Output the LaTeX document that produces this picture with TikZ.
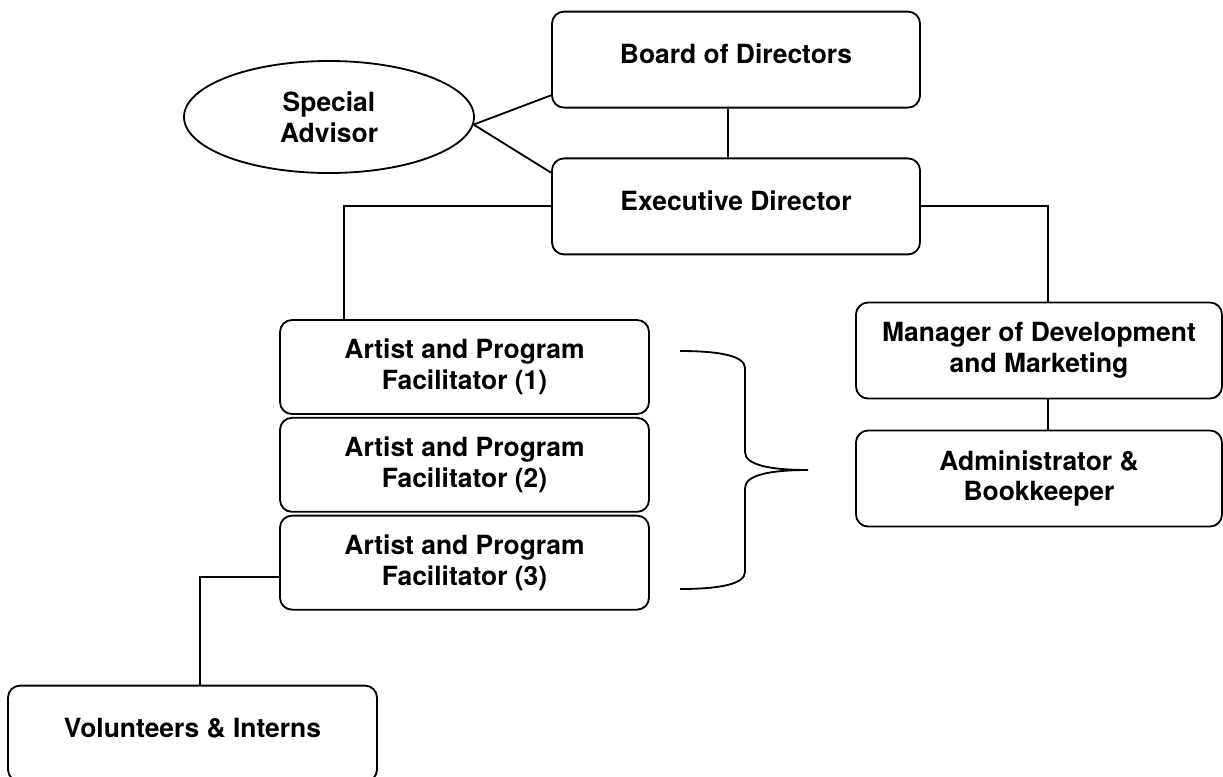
\documentclass[tikz,border=0pt]{standalone}
\usepackage{fontspec}
\setmainfont{TeX Gyre Heros}
\usetikzlibrary{positioning,shapes.geometric}

\begin{document}
\begin{tikzpicture}[line width=1.3pt,
    every node/.style={font=\bfseries\fontsize{18.8}{21.8}\selectfont, align=center},
    orgbox/.style={draw, rounded corners=0.3cm, minimum width=9.2cm, minimum height=2.4cm, inner sep=2pt},
    oneline/.style={text depth=0.28cm}]
	\useasboundingbox (0,0) rectangle (30.575,-19.4);
	\node[orgbox, oneline] (board) at (18.4,-1.49) {Board of Directors};
	\node[orgbox, oneline] (exec)  at (18.4,-5.16) {Executive Director};
	\node[draw, ellipse, minimum width=7.25cm, minimum height=2.8cm, inner sep=0pt] (adv) at (8.225,-2.925) {Special\\Advisor};
	\node[orgbox, minimum width=9.225cm, minimum height=2.35cm] (art1) at (11.6125,-9.175) {Artist and Program\\Facilitator (1)};
	\node[orgbox, minimum width=9.225cm, minimum height=2.35cm, below=0.05cm of art1] (art2) {Artist and Program\\Facilitator (2)};
	\node[orgbox, minimum width=9.225cm, minimum height=2.35cm, below=0.05cm of art2] (art3) {Artist and Program\\Facilitator (3)};
	\node[orgbox, minimum width=9.15cm] (mgr) at (25.975,-8.7625)  {Manager of Development\\and Marketing};
	\node[orgbox, minimum width=9.15cm] (adm) at (25.975,-11.9625) {Administrator \&\\Bookkeeper};
	\node[orgbox, oneline, minimum width=9.225cm] (vol) at (4.8125,-18.34) {Volunteers \& Interns};
	\draw (adv.-3) -- ([yshift=0.33cm]board.south west);
	\draw (adv.-3) -- ([yshift=-0.38cm]exec.north west);
	\draw ([xshift=-0.2cm]board.south) -- ([xshift=-0.2cm]exec.north);
	\draw (exec.west) -| ([xshift=1.625cm]art1.north west);
	\draw (exec.east) -| ([xshift=0.225cm]mgr.north);
	\draw ([xshift=0.225cm]mgr.south) -- ([xshift=0.225cm]adm.north);
	\draw ([yshift=-0.35cm]art3.west) -| ([xshift=0.19cm]vol.north);
	\draw (17,-8.775) .. controls (18,-8.775) and (18.625,-8.9) .. (18.625,-9.2) -- (18.625,-11.3)
	      .. controls (18.625,-11.625) and (19.25,-11.75) .. (20.2,-11.75)
	      .. controls (19.25,-11.75) and (18.625,-11.875) .. (18.625,-12.2) -- (18.625,-14.3)
	      .. controls (18.625,-14.6) and (18,-14.725) .. (17,-14.725);
\end{tikzpicture}
\end{document}
